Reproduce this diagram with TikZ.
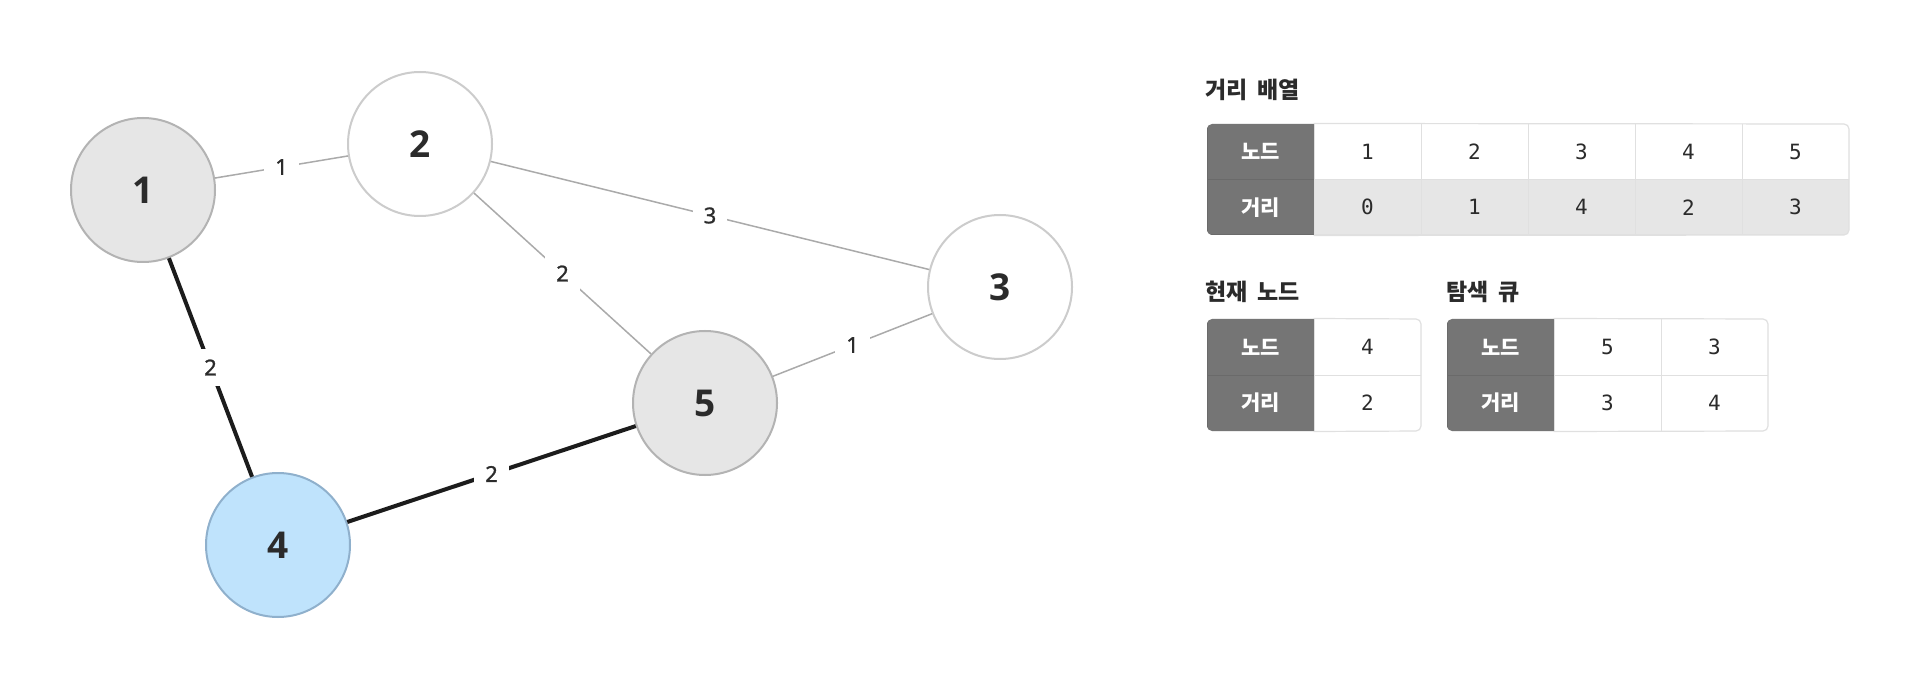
\documentclass[tikz,border=0pt]{standalone}
\usepackage{fontspec}
\setmainfont{Noto Sans}
\newfontfamily\kr{Noto Sans CJK KR}
\newfontfamily\mono{DejaVu Sans Mono}
\newfontfamily\nodefont{Open Sans}
\newfontfamily\elabfont{Noto Sans}[FakeBold=1]
\definecolor{txt}{HTML}{2B2B2B}
\definecolor{ngray}{HTML}{E6E6E6}
\definecolor{ngrayb}{HTML}{B3B3B3}
\definecolor{nwhiteb}{HTML}{CCCCCC}
\definecolor{nblue}{HTML}{BFE3FC}
\definecolor{nblueb}{HTML}{8FB0CC}
\definecolor{edgegray}{HTML}{AAAAAA}
\definecolor{edgeblack}{HTML}{1C1C1C}
\definecolor{hdr}{HTML}{757575}
\definecolor{hdrline}{HTML}{6A6A6A}
\definecolor{cellb}{HTML}{E0E0E0}
\definecolor{valgray}{HTML}{E6E6E6}
\tikzset{
  gnode/.style={circle, minimum size=72pt, inner sep=0pt, line width=1pt, text=txt,
    font=\nodefont\bfseries\fontsize{18.5}{21}\selectfont},
  gedge/.style={draw=edgegray, line width=0.75pt},
  bedge/.style={draw=edgeblack, line width=2pt},
  elab/.style={fill=white, inner sep=5.5pt, text=txt, font=\elabfont\fontsize{11}{13}\selectfont},
  hcell/.style={rectangle, fill=hdr, draw=hdrline, line width=0.5pt, minimum width=53.5pt,
    minimum height=27.75pt, inner sep=0pt, text=white, font=\kr\bfseries\fontsize{10.5}{12}\selectfont},
  vcell/.style={rectangle, fill=white, draw=cellb, line width=0.5pt, minimum width=53.5pt,
    minimum height=27.75pt, inner sep=0pt, text=txt, font=\mono\fontsize{10.5}{12}\selectfont},
  vcellg/.style={vcell, fill=valgray},
  hcellb/.style={hcell, minimum height=28pt},
  vcellb/.style={vcell, minimum height=28pt},
  ttl/.style={anchor=west, inner sep=0pt, text=txt, font=\kr\bfseries\fontsize{11.5}{13}\selectfont},
  tabline/.style={draw=cellb, line width=0.6pt, rounded corners=2.5pt}
}
\begin{document}
\begin{tikzpicture}[x=0.5pt,y=-0.5pt]
\fill[white] (0,0) rectangle (1920,689);
\useasboundingbox (0,0) rectangle (1920,689);

% graph nodes
\node[gnode, fill=ngray, draw=ngrayb] (n1) at (143,190) {1};
\node[gnode, fill=white, draw=nwhiteb] (n2) at (420,144) {2};
\node[gnode, fill=white, draw=nwhiteb] (n3) at (1000,287) {3};
\node[gnode, fill=nblue, draw=nblueb] (n4) at (278,545) {4};
\node[gnode, fill=ngray, draw=ngrayb] (n5) at (705,403) {5};

% edges
\draw[gedge] (n1) -- node[elab] (e12) {1} (n2);
\draw[gedge] (n2) -- node[elab] (e23) {3} (n3);
\draw[gedge] (n2) -- node[elab] (e25) {2} (n5);
\draw[gedge] (n5) -- node[elab] (e53) {1} (n3);
\draw[bedge] (n1) -- node[elab] (e14) {2} (n4);
\draw[bedge] (n4) -- node[elab] (e45) {2} (n5);

% distance array
\node[ttl] (t1) at (1205,90) {거리\kern5pt 배열};
\begin{scope}
\clip[rounded corners=2.5pt] (1207,124) rectangle (1849,235);
\node[hcell] (a0) at (1260.5,151.75) {노드};
\node[hcell] (b0) at (1260.5,207.25) {거리};
\node[vcell] (a1) at (1367.5,151.75) {1};
\node[vcell] (a2) at (1474.5,151.75) {2};
\node[vcell] (a3) at (1581.5,151.75) {3};
\node[vcell] (a4) at (1688.5,151.75) {4};
\node[vcell] (a5) at (1795.5,151.75) {5};
\node[vcellg] (b1) at (1367.5,207.25) {0};
\node[vcellg] (b2) at (1474.5,207.25) {1};
\node[vcellg] (b3) at (1581.5,207.25) {4};
\node[vcellg] (b4) at (1688.5,207.25) {2};
\node[vcellg] (b5) at (1795.5,207.25) {3};
\end{scope}
\draw[tabline] (a1.north west) -- (1849,124) -- (1849,235) -- (b1.south west);

% current node
\node[ttl] (t2) at (1205,292) {현재\kern5pt 노드};
\begin{scope}
\clip[rounded corners=2.5pt] (1207,319) rectangle (1421,431);
\node[hcellb] (c0) at (1260.5,347) {노드};
\node[hcellb] (d0) at (1260.5,403) {거리};
\node[vcellb] (c1) at (1367.5,347) {4};
\node[vcellb] (d1) at (1367.5,403) {2};
\end{scope}
\draw[tabline] (c1.north west) -- (1421,319) -- (1421,431) -- (d1.south west);

% search queue
\node[ttl] (t3) at (1446,292) {탐색\kern5pt 큐};
\begin{scope}
\clip[rounded corners=2.5pt] (1447,319) rectangle (1768,431);
\node[hcellb] (q0) at (1500.5,347) {노드};
\node[hcellb] (r0) at (1500.5,403) {거리};
\node[vcellb] (q1) at (1607.5,347) {5};
\node[vcellb] (q2) at (1714.5,347) {3};
\node[vcellb] (r1) at (1607.5,403) {3};
\node[vcellb] (r2) at (1714.5,403) {4};
\end{scope}
\draw[tabline] (q1.north west) -- (1768,319) -- (1768,431) -- (r1.south west);
\end{tikzpicture}
\end{document}
